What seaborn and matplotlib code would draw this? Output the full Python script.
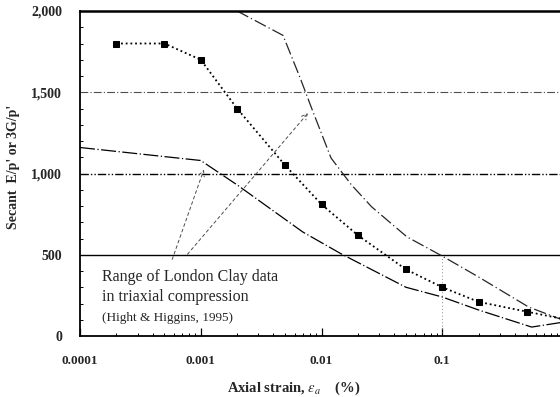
import numpy as np
import pandas as pd
import seaborn as sns
import matplotlib.pyplot as plt
from matplotlib.ticker import FixedLocator, NullFormatter, LogLocator

# measured secant stiffness (square markers)
strain_pts = [0.0002, 0.0005, 0.001, 0.002, 0.005, 0.01, 0.02, 0.05, 0.1, 0.2, 0.5, 1.0]
stiff_pts = [1800, 1800, 1700, 1400, 1050, 810, 620, 410, 300, 210, 150, 105]

# London Clay range, lower bound
strain_low = [0.0001, 0.001, 0.002, 0.007, 0.0146, 0.05, 0.1, 0.2, 0.55, 1.0]
stiff_low = [1160, 1080, 930, 640, 505, 300, 240, 160, 55, 85]

# London Clay range, upper bound
strain_up = [0.002, 0.0048, 0.0066, 0.0084, 0.012, 0.0177, 0.026, 0.051, 0.1, 0.2, 0.52, 1.0]
stiff_up = [2000, 1850, 1595, 1390, 1095, 930, 795, 610, 492, 363, 178, 98]

ref_levels = [1500, 1000, 500]
ytick_vals = [0, 500, 1000, 1500, 2000]
ytick_labels = ['0', '500', '1,000', '1,500', '2,000']
xtick_vals = [0.0001, 0.001, 0.01, 0.1, 1]
xtick_labels = ['0.0001', '0.001', '0.01', '0.1', '1']


def main():
    sns.set_style("ticks")
    plt.rcParams['font.family'] = ['Liberation Serif', 'DejaVu Serif']
    plt.rcParams['mathtext.fontset'] = 'stix'

    fig = plt.figure(figsize=(5.6, 3.97), dpi=100)
    ax = fig.add_axes([80 / 560, 61 / 397, 483 / 560, 325 / 397])

    # reference levels
    ax.axhline(ref_levels[0], color='0.3', lw=0.8, ls=(0, (7, 2, 1, 2)), zorder=1)
    ax.axhline(ref_levels[1], color='black', lw=1.0, ls=(0, (6, 1.5, 1, 1.5, 1, 1.5)), zorder=1)
    ax.axhline(ref_levels[2], color='black', lw=1.0, zorder=1)
    ax.plot([0.1, 0.1], [0, 480], color='0.4', lw=0.6, ls=(0, (1, 3)), zorder=1)

    df_low = pd.DataFrame({'strain': strain_low, 'stiffness': stiff_low})
    df_up = pd.DataFrame({'strain': strain_up, 'stiffness': stiff_up})
    df_pts = pd.DataFrame({'strain': strain_pts, 'stiffness': stiff_pts})

    sns.lineplot(data=df_low, x='strain', y='stiffness', ax=ax, color='black',
                 lw=0.9, linestyle=(0, (12, 2, 1, 2)))
    sns.lineplot(data=df_up, x='strain', y='stiffness', ax=ax, color='0.15',
                 lw=0.9, linestyle=(0, (10, 2.5, 1, 2.5)))
    sns.lineplot(data=df_pts, x='strain', y='stiffness', ax=ax, color='black',
                 lw=1.3, linestyle=(0, (1, 1.6)), marker='s', markersize=5,
                 markeredgecolor='black', markerfacecolor='black')

    ax.set_xscale('log')
    ax.set_xlim(0.0001, 1)
    ax.set_ylim(0, 2000)

    ax.set_xticks(xtick_vals)
    ax.set_xticklabels(xtick_labels, fontsize=9.5, fontweight='bold')
    ax.xaxis.set_minor_locator(LogLocator(base=10, subs=np.arange(2, 10)))
    ax.xaxis.set_minor_formatter(NullFormatter())
    ax.set_yticks(ytick_vals)
    ax.set_yticklabels(ytick_labels, fontsize=10, fontweight='bold')
    ax.yaxis.set_minor_locator(FixedLocator(np.arange(100, 2000, 100)))

    ax.tick_params(axis='both', which='major', direction='in', length=6, width=0.9,
                   color='black', pad=14)
    ax.tick_params(axis='both', which='minor', direction='in', length=2.5, width=0.7,
                   color='black')
    ax.tick_params(axis='y', which='major', length=0, pad=13)

    for side in ['left', 'bottom', 'top', 'right']:
        ax.spines[side].set_visible(True)
        ax.spines[side].set_color('black')
    ax.spines['left'].set_linewidth(1.3)
    ax.spines['bottom'].set_linewidth(1.3)
    ax.spines['top'].set_linewidth(1.8)

    ax.set_xlabel(r"Axial strain, $\epsilon_a$    (%)", fontsize=10.5, fontweight='bold')
    ax.xaxis.set_label_coords(0.443, -0.135)
    ax.set_ylabel("Secant  E/p' or 3G/p'", fontsize=10, fontweight='bold')
    ax.yaxis.set_label_coords(-0.125, 0.52)

    # annotation describing the range
    tx = 0.0001 * 10 ** (22 / 121)
    ax.text(tx, 363, "Range of London Clay data", fontsize=11.5, va='center', ha='left')
    ax.text(tx, 240, "in triaxial compression", fontsize=11.5, va='center', ha='left')
    ax.text(tx, 111, "(Hight & Higgins, 1995)", fontsize=9.5, va='center', ha='left')
    ax.annotate('', xy=(0.00108, 1040), xytext=(0.00057, 455),
                arrowprops=dict(arrowstyle='->', color='0.3', lw=0.7, ls=(0, (3, 3))))
    ax.annotate('', xy=(0.008, 1385), xytext=(0.00075, 490),
                arrowprops=dict(arrowstyle='->', color='0.3', lw=0.7, ls=(0, (3, 3))))

    plt.savefig('out.png', dpi=100)


if __name__ == '__main__':
    main()
